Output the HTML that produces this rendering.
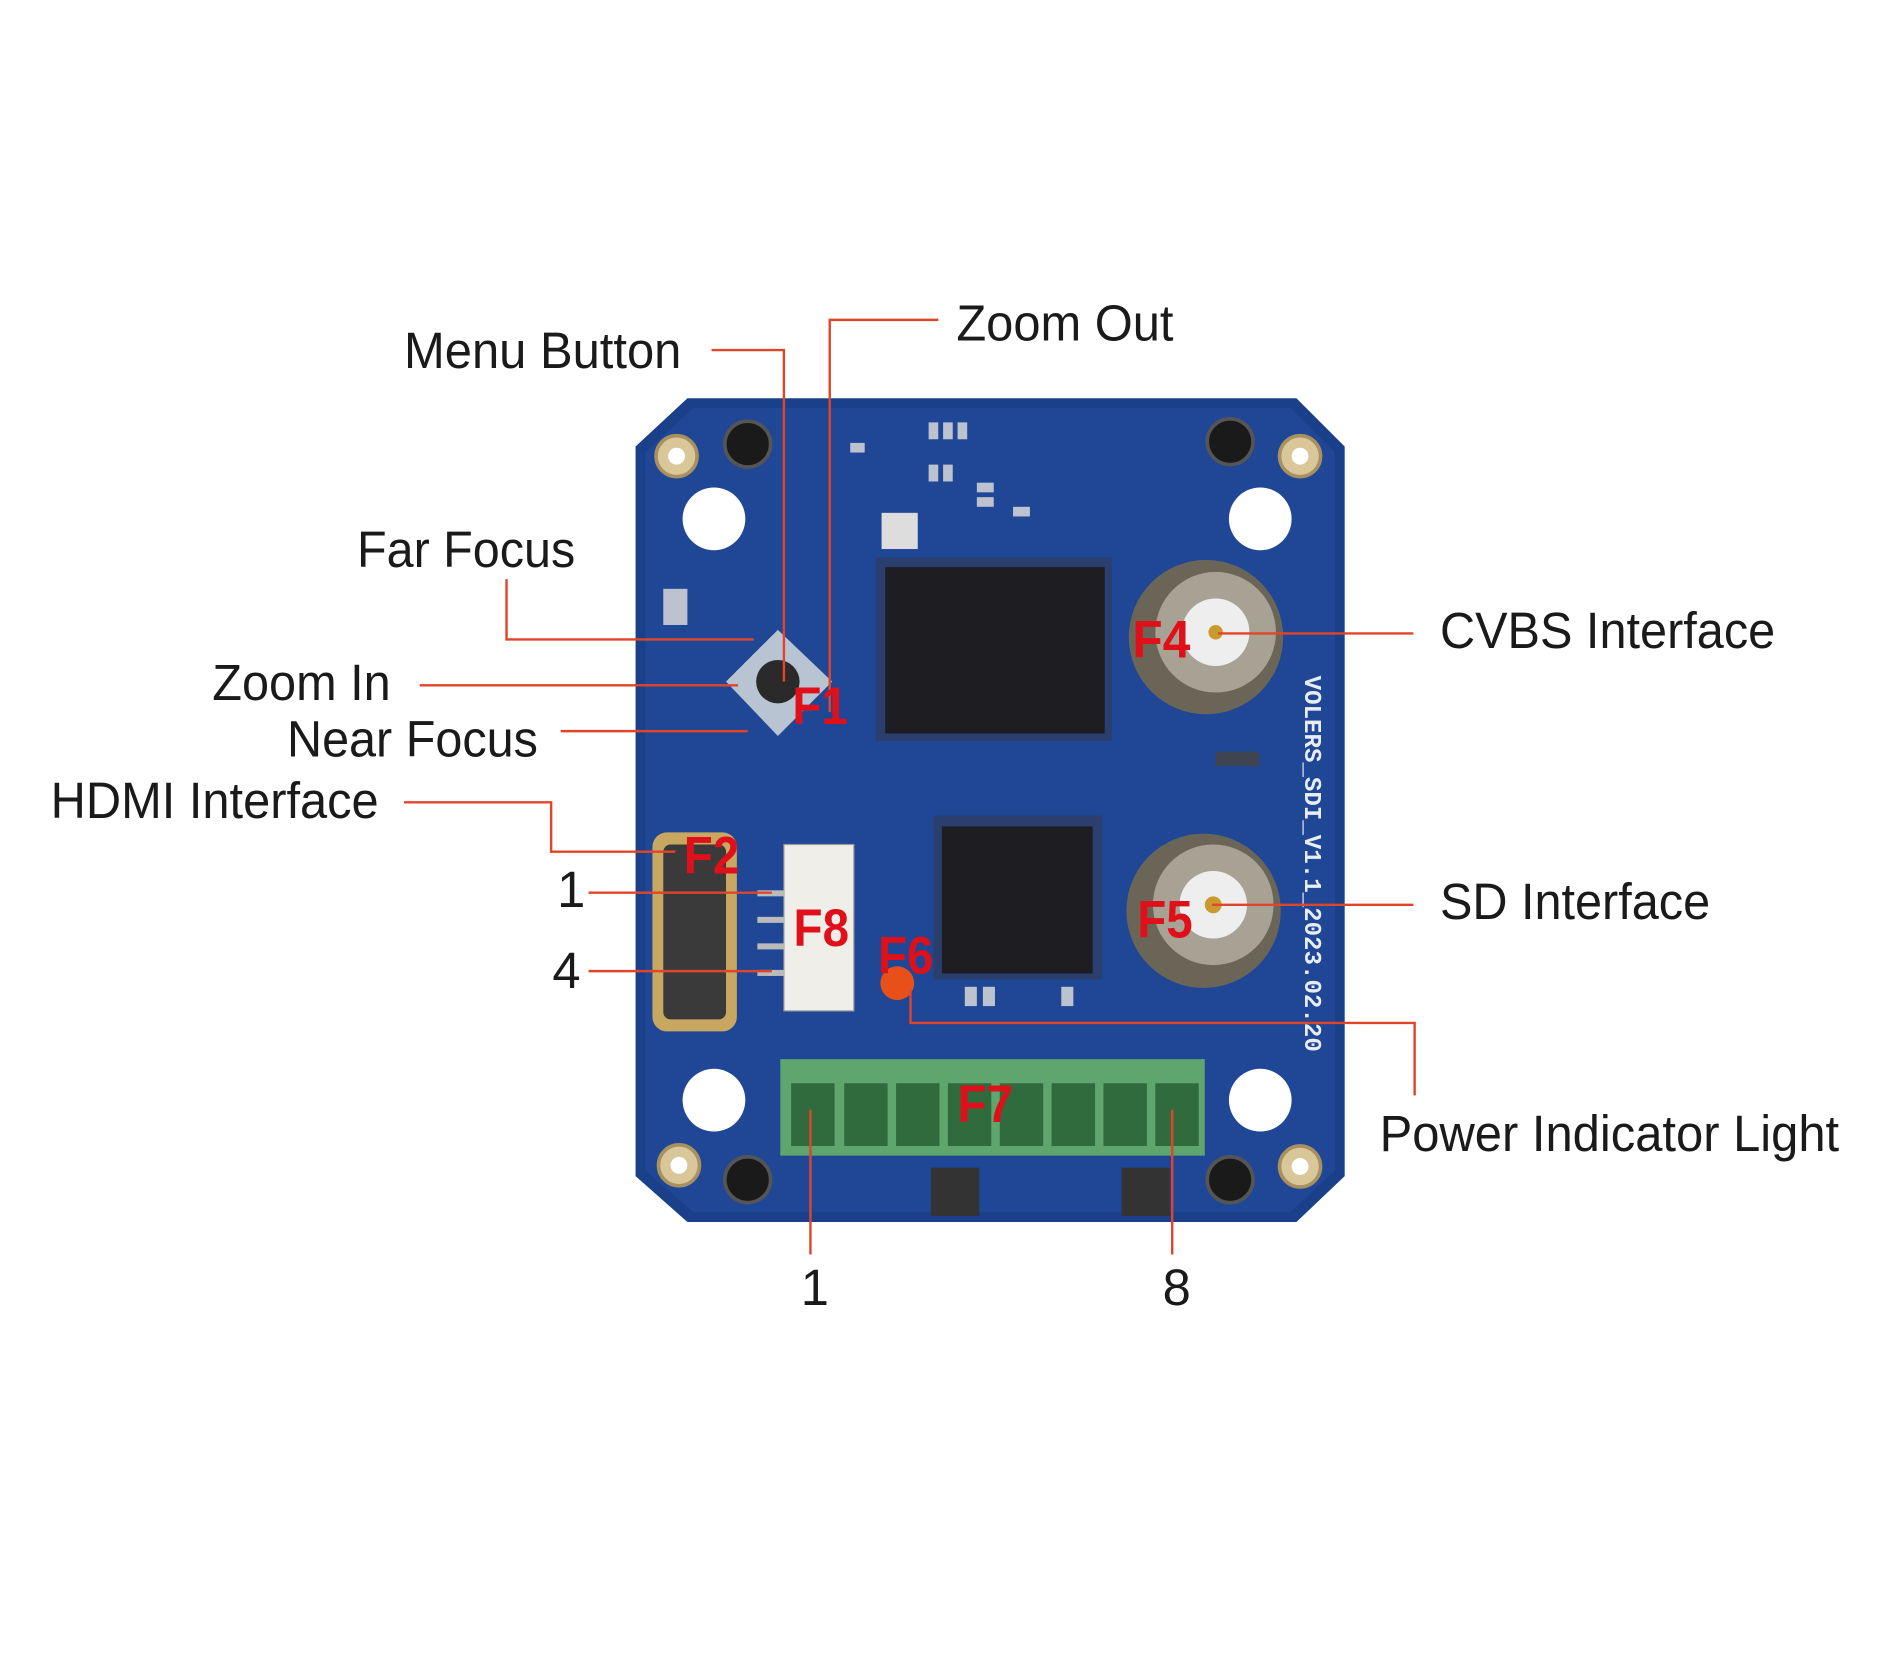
<!DOCTYPE html>
<html><head><meta charset="utf-8"><style>
html,body{margin:0;padding:0;background:#fff;width:1891px;height:1654px;overflow:hidden}
svg{display:block}
.l{font-family:"Liberation Sans",sans-serif;font-size:42px;fill:#1a1a1a}
.r{font-family:"Liberation Sans",sans-serif;font-size:44px;font-weight:bold;fill:#e0101a}
.ln{stroke:#e0452a;stroke-width:2;fill:none}
</style></head><body>
<svg width="1891" height="1654" viewBox="0 0 1568 1371" xmlns="http://www.w3.org/2000/svg">
<rect width="1568" height="1371" fill="#fff"/>
<!-- board -->
<polygon points="570,330 1075,330 1115,370 1115,975 1075,1013 570,1013 527,975 527,370" fill="#1a408a"/>
<polygon points="575,338 1070,338 1107,375 1107,970 1070,1005 575,1005 535,970 535,375" fill="#1f4796"/>
<!-- small components -->
<g fill="#d8d8d8" opacity="0.85">
<rect x="770" y="350" width="8" height="14"/><rect x="782" y="350" width="8" height="14"/><rect x="794" y="350" width="8" height="14"/>
<rect x="770" y="385" width="8" height="14"/><rect x="782" y="385" width="8" height="14"/>
<rect x="810" y="400" width="14" height="8"/><rect x="810" y="412" width="14" height="8"/><rect x="840" y="420" width="14" height="8"/>
<rect x="705" y="367" width="12" height="8"/><rect x="550" y="488" width="20" height="30"/>
<rect x="800" y="818" width="10" height="16"/><rect x="815" y="818" width="10" height="16"/><rect x="880" y="818" width="10" height="16"/>
<rect x="1008" y="623" width="36" height="12" fill="#444"/>
</g>
<!-- holes -->
<circle cx="592" cy="430" r="26" fill="#fff"/><circle cx="1045" cy="430" r="26" fill="#fff"/>
<circle cx="592" cy="912" r="26" fill="#fff"/><circle cx="1045" cy="912" r="26" fill="#fff"/>
<!-- gold rings -->
<g fill="#d9c79a" stroke="#a89060" stroke-width="3">
<circle cx="561" cy="378" r="17"/><circle cx="1078" cy="378" r="17"/><circle cx="563" cy="966" r="17"/><circle cx="1078" cy="967" r="17"/></g>
<g fill="#fff"><circle cx="561" cy="378" r="7"/><circle cx="1078" cy="378" r="7"/><circle cx="563" cy="966" r="7"/><circle cx="1078" cy="967" r="7"/></g>
<!-- screws -->
<g fill="#1a1a1a" stroke="#555" stroke-width="3">
<circle cx="620" cy="368" r="19"/><circle cx="1020" cy="366" r="19"/><circle cx="620" cy="978" r="19"/><circle cx="1020" cy="978" r="19"/></g>
<!-- chips -->
<rect x="726" y="462" width="196" height="152" fill="#2b3f6e"/>
<rect x="734" y="470" width="182" height="138" fill="#1e1e22"/>
<rect x="774" y="676" width="140" height="136" fill="#2b3f6e"/>
<rect x="781" y="685" width="125" height="122" fill="#1e1e22"/>
<rect x="731" y="425" width="30" height="30" fill="#ddd"/>
<!-- BNC -->
<circle cx="1000" cy="528" r="64" fill="#6b6558"/><circle cx="1008" cy="524" r="50" fill="#a8a294"/><circle cx="1008" cy="524" r="28" fill="#eee"/><circle cx="1008" cy="524" r="6" fill="#c99a2e"/>
<circle cx="998" cy="755" r="64" fill="#6b6558"/><circle cx="1006" cy="750" r="50" fill="#a8a294"/><circle cx="1006" cy="750" r="28" fill="#eee"/><circle cx="1006" cy="750" r="7" fill="#c99a2e"/>
<!-- joystick -->
<polygon points="645,522 690,565 645,610 602,565" fill="#b9c4d2"/>
<circle cx="645" cy="565" r="18" fill="#2a2a2a"/>
<!-- HDMI -->
<rect x="541" y="690" width="70" height="165" rx="12" fill="#c8a860"/>
<rect x="550" y="700" width="52" height="145" rx="6" fill="#3a3a3a"/>
<!-- F8 connector -->
<rect x="650" y="700" width="58" height="138" fill="#f0eee8" stroke="#999"/>
<g fill="#bbb"><rect x="628" y="738" width="22" height="5"/><rect x="628" y="760" width="22" height="5"/><rect x="628" y="782" width="22" height="5"/><rect x="628" y="804" width="22" height="5"/></g>
<!-- LED -->
<circle cx="744" cy="815" r="14" fill="#e8501a"/>
<!-- terminal -->
<rect x="647" y="878" width="352" height="80" fill="#5fa56e"/>
<g fill="#2f6b3c">
<rect x="656" y="898" width="36" height="52"/><rect x="700" y="898" width="36" height="52"/><rect x="743" y="898" width="36" height="52"/><rect x="786" y="898" width="36" height="52"/><rect x="829" y="898" width="36" height="52"/><rect x="872" y="898" width="36" height="52"/><rect x="915" y="898" width="36" height="52"/><rect x="958" y="898" width="36" height="52"/></g>
<rect x="772" y="968" width="40" height="40" fill="#333"/><rect x="930" y="968" width="40" height="40" fill="#333"/>
<text x="1082" y="560" transform="rotate(90 1082 560)" font-family="Liberation Mono,monospace" font-size="20" font-weight="bold" fill="#e8ecf4">VOLERS_SDI_V1.1_2023.02.20</text>
<!-- connector lines -->
<polyline class="ln" points="590,290 650,290 650,565"/>
<polyline class="ln" points="778,265 688,265 688,590"/>
<polyline class="ln" points="420,480 420,530 625,530"/>
<polyline class="ln" points="348,568 612,568"/>
<polyline class="ln" points="465,606 620,606"/>
<polyline class="ln" points="335,665 457,665 457,706 560,706"/>
<polyline class="ln" points="488,740 640,740"/>
<polyline class="ln" points="488,805 640,805"/>
<polyline class="ln" points="1010,525 1172,525"/>
<polyline class="ln" points="1005,750 1172,750"/>
<polyline class="ln" points="755,820 755,848 1173,848 1173,908"/>
<polyline class="ln" points="672,920 672,1040"/>
<polyline class="ln" points="972,920 972,1040"/>
<!-- labels -->
<text class="l" x="335" y="305" textLength="230" lengthAdjust="spacingAndGlyphs">Menu Button</text>
<text class="l" x="793" y="282" textLength="180" lengthAdjust="spacingAndGlyphs">Zoom Out</text>
<text class="l" x="296" y="470" textLength="181" lengthAdjust="spacingAndGlyphs">Far Focus</text>
<text class="l" x="176" y="580" textLength="148" lengthAdjust="spacingAndGlyphs">Zoom In</text>
<text class="l" x="238" y="627" textLength="208" lengthAdjust="spacingAndGlyphs">Near Focus</text>
<text class="l" x="42" y="678" textLength="272" lengthAdjust="spacingAndGlyphs">HDMI Interface</text>
<text class="l" x="462" y="752">1</text>
<text class="l" x="458" y="819">4</text>
<text class="l" x="1194" y="537" textLength="278" lengthAdjust="spacingAndGlyphs">CVBS Interface</text>
<text class="l" x="1194" y="762" textLength="224" lengthAdjust="spacingAndGlyphs">SD Interface</text>
<text class="l" x="1144" y="954" textLength="381" lengthAdjust="spacingAndGlyphs">Power Indicator Light</text>
<text class="l" x="664" y="1082">1</text>
<text class="l" x="964" y="1082">8</text>
<text class="r" x="657" y="600" textLength="46" lengthAdjust="spacingAndGlyphs">F1</text>
<text class="r" x="567" y="724" textLength="46" lengthAdjust="spacingAndGlyphs">F2</text>
<text class="r" x="658" y="784" textLength="46" lengthAdjust="spacingAndGlyphs">F8</text>
<text class="r" x="728" y="807" textLength="46" lengthAdjust="spacingAndGlyphs">F6</text>
<text class="r" x="939" y="545" textLength="48" lengthAdjust="spacingAndGlyphs">F4</text>
<text class="r" x="943" y="777" textLength="46" lengthAdjust="spacingAndGlyphs">F5</text>
<text class="r" x="794" y="930" textLength="46" lengthAdjust="spacingAndGlyphs">F7</text>
</svg>
</body></html>
